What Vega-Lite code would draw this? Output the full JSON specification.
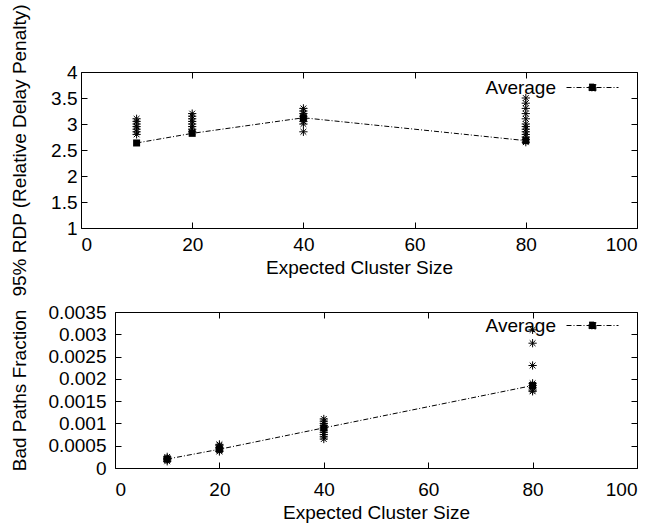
{
  "$schema": "https://vega.github.io/schema/vega-lite/v6.json",
  "padding": {"left": 10, "top": 3, "right": 0, "bottom": 0},
  "spacing": 1,
  "columns": 1,
  "datasets": {
    "rdp_runs": [
      {"size": 10, "rdp": 2.8}, {"size": 10, "rdp": 2.85}, {"size": 10, "rdp": 2.9}, {"size": 10, "rdp": 2.95}, {"size": 10, "rdp": 3.0}, {"size": 10, "rdp": 3.05}, {"size": 10, "rdp": 3.1},
      {"size": 20, "rdp": 2.85}, {"size": 20, "rdp": 2.9}, {"size": 20, "rdp": 2.95}, {"size": 20, "rdp": 3.0}, {"size": 20, "rdp": 3.05}, {"size": 20, "rdp": 3.1}, {"size": 20, "rdp": 3.15}, {"size": 20, "rdp": 3.2},
      {"size": 40, "rdp": 2.85}, {"size": 40, "rdp": 3.0}, {"size": 40, "rdp": 3.05}, {"size": 40, "rdp": 3.1}, {"size": 40, "rdp": 3.15}, {"size": 40, "rdp": 3.2}, {"size": 40, "rdp": 3.25}, {"size": 40, "rdp": 3.3},
      {"size": 80, "rdp": 2.65}, {"size": 80, "rdp": 2.7}, {"size": 80, "rdp": 2.75}, {"size": 80, "rdp": 2.8}, {"size": 80, "rdp": 2.85}, {"size": 80, "rdp": 2.9}, {"size": 80, "rdp": 2.95}, {"size": 80, "rdp": 3.0}, {"size": 80, "rdp": 3.1}, {"size": 80, "rdp": 3.2}, {"size": 80, "rdp": 3.3}, {"size": 80, "rdp": 3.4}, {"size": 80, "rdp": 3.5}
    ],
    "rdp_avg": [
      {"size": 10, "rdp": 2.635, "series": "Average"},
      {"size": 20, "rdp": 2.82, "series": "Average"},
      {"size": 40, "rdp": 3.12, "series": "Average"},
      {"size": 80, "rdp": 2.68, "series": "Average"}
    ],
    "bad_runs": [
      {"size": 10, "frac": 0.00015}, {"size": 10, "frac": 0.00018}, {"size": 10, "frac": 0.0002}, {"size": 10, "frac": 0.00022}, {"size": 10, "frac": 0.00025},
      {"size": 20, "frac": 0.00037}, {"size": 20, "frac": 0.0004}, {"size": 20, "frac": 0.00043}, {"size": 20, "frac": 0.00046}, {"size": 20, "frac": 0.0005}, {"size": 20, "frac": 0.00053},
      {"size": 40, "frac": 0.00065}, {"size": 40, "frac": 0.0007}, {"size": 40, "frac": 0.00075}, {"size": 40, "frac": 0.0008}, {"size": 40, "frac": 0.00085}, {"size": 40, "frac": 0.0009}, {"size": 40, "frac": 0.00095}, {"size": 40, "frac": 0.001}, {"size": 40, "frac": 0.00105}, {"size": 40, "frac": 0.0011},
      {"size": 80, "frac": 0.00172}, {"size": 80, "frac": 0.00175}, {"size": 80, "frac": 0.0018}, {"size": 80, "frac": 0.00185}, {"size": 80, "frac": 0.0019}, {"size": 80, "frac": 0.0023}, {"size": 80, "frac": 0.0028}, {"size": 80, "frac": 0.0031}
    ],
    "bad_avg": [
      {"size": 10, "frac": 0.0002, "series": "Average"},
      {"size": 20, "frac": 0.00042, "series": "Average"},
      {"size": 40, "frac": 0.0009, "series": "Average"},
      {"size": 80, "frac": 0.00185, "series": "Average"}
    ]
  },
  "resolve": {"scale": {"color": "independent"}, "legend": {"color": "independent"}},
  "concat": [
    {
      "width": 522,
      "height": 156,
      "view": {"stroke": null},
      "layer": [
        {
          "data": {"name": "rdp_runs"},
          "mark": {"type": "point", "shape": "M-1,0H1M0,-1V1M-0.7,-0.7L0.7,0.7M-0.7,0.7L0.7,-0.7", "size": 68, "filled": false, "color": "black", "strokeWidth": 1, "opacity": 1},
          "encoding": {
            "x": {"field": "size", "type": "quantitative", "scale": {"domain": [0, 100], "nice": false, "range": [-34, 522]},
                  "axis": {"orient": "top", "labels": false, "title": null, "domain": true, "values": [0, 20, 40, 60, 80, 100]}},
            "y": {"field": "rdp", "type": "quantitative", "scale": {"domain": [1, 4], "nice": false, "zero": false},
                  "axis": {"orient": "right", "labels": false, "title": null, "domain": true, "values": [1, 1.5, 2, 2.5, 3, 3.5, 4]}}
          }
        },
        {
          "data": {"name": "rdp_avg"},
          "mark": {"type": "line", "strokeDash": [5, 2, 1, 2], "strokeWidth": 1},
          "encoding": {
            "x": {"field": "size", "type": "quantitative", "scale": {"domain": [0, 100], "nice": false, "range": [-34, 522]},
                  "axis": {"orient": "bottom", "title": "Expected Cluster Size", "domain": true, "values": [0, 20, 40, 60, 80, 100], "labelPadding": 13, "titlePadding": 4}},
            "y": {"field": "rdp", "type": "quantitative", "scale": {"domain": [1, 4], "nice": false, "zero": false},
                  "axis": {"orient": "left", "offset": 34, "title": "95% RDP (Relative Delay Penalty)", "domain": true, "values": [1, 1.5, 2, 2.5, 3, 3.5, 4], "format": "~g", "labelPadding": 10, "titlePadding": 21}},
            "color": {"field": "series", "type": "nominal", "scale": {"range": ["black"]},
                      "legend": {"title": null, "orient": "none", "legendX": 451, "legendY": -11}}
          }
        },
        {
          "data": {"name": "rdp_avg"},
          "mark": {"type": "point", "shape": "square", "size": 49, "filled": true, "opacity": 1},
          "encoding": {
            "x": {"field": "size", "type": "quantitative", "axis": null},
            "y": {"field": "rdp", "type": "quantitative", "axis": null},
            "color": {"field": "series", "type": "nominal", "scale": {"range": ["black"]},
                      "legend": {"title": null, "orient": "none", "legendX": 451, "legendY": -11}}
          }
        }
      ]
    },
    {
      "width": 522,
      "height": 156,
      "layer": [
        {
          "data": {"name": "bad_runs"},
          "mark": {"type": "point", "shape": "M-1,0H1M0,-1V1M-0.7,-0.7L0.7,0.7M-0.7,0.7L0.7,-0.7", "size": 68, "filled": false, "color": "black", "strokeWidth": 1, "opacity": 1},
          "encoding": {
            "x": {"field": "size", "type": "quantitative", "scale": {"domain": [0, 100], "nice": false},
                  "axis": {"orient": "top", "labels": false, "title": null, "values": [0, 20, 40, 60, 80, 100]}},
            "y": {"field": "frac", "type": "quantitative", "scale": {"domain": [0, 0.0035], "nice": false},
                  "axis": {"orient": "right", "labels": false, "title": null, "values": [0, 0.0005, 0.001, 0.0015, 0.002, 0.0025, 0.003, 0.0035]}}
          }
        },
        {
          "data": {"name": "bad_avg"},
          "mark": {"type": "line", "strokeDash": [5, 2, 1, 2], "strokeWidth": 1},
          "encoding": {
            "x": {"field": "size", "type": "quantitative", "scale": {"domain": [0, 100], "nice": false},
                  "axis": {"orient": "bottom", "title": "Expected Cluster Size", "values": [0, 20, 40, 60, 80, 100], "labelPadding": 18, "titlePadding": 4}},
            "y": {"field": "frac", "type": "quantitative", "scale": {"domain": [0, 0.0035], "nice": false},
                  "axis": {"orient": "left", "title": "Bad Paths Fraction", "values": [0, 0.0005, 0.001, 0.0015, 0.002, 0.0025, 0.003, 0.0035], "format": "~g", "labelPadding": 15, "titlePadding": 18}},
            "color": {"field": "series", "type": "nominal", "scale": {"range": ["black"]},
                      "legend": {"title": null, "orient": "none", "legendX": 451, "legendY": -13}}
          }
        },
        {
          "data": {"name": "bad_avg"},
          "mark": {"type": "point", "shape": "square", "size": 49, "filled": true, "opacity": 1},
          "encoding": {
            "x": {"field": "size", "type": "quantitative", "axis": null},
            "y": {"field": "frac", "type": "quantitative", "axis": null},
            "color": {"field": "series", "type": "nominal", "scale": {"range": ["black"]},
                      "legend": {"title": null, "orient": "none", "legendX": 451, "legendY": -13}}
          }
        }
      ]
    }
  ],
  "config": {
    "font": "Liberation Sans",
    "view": {"stroke": "black", "strokeWidth": 1},
    "axis": {
      "labelFont": "Liberation Sans", "titleFont": "Liberation Sans",
      "labelFontSize": 19, "titleFontSize": 19, "titleFontWeight": "normal",
      "labelColor": "black", "titleColor": "black", "tickColor": "black",
      "domain": false, "domainColor": "black", "domainWidth": 1,
      "grid": false, "tickSize": -6, "tickWidth": 1
    },
    "legend": {
      "labelFont": "Liberation Sans", "labelFontSize": 19, "labelColor": "black",
      "symbolType": "M-1,0H1M-0.13,-0.13H0.13V0.13H-0.13Z",
      "symbolSize": 2704, "symbolDash": [5, 2, 1, 2], "symbolStrokeWidth": 1,
      "symbolFillColor": "black", "symbolStrokeColor": "black",
      "labelAlign": "right", "labelOffset": -63, "padding": 0
    }
  }
}
